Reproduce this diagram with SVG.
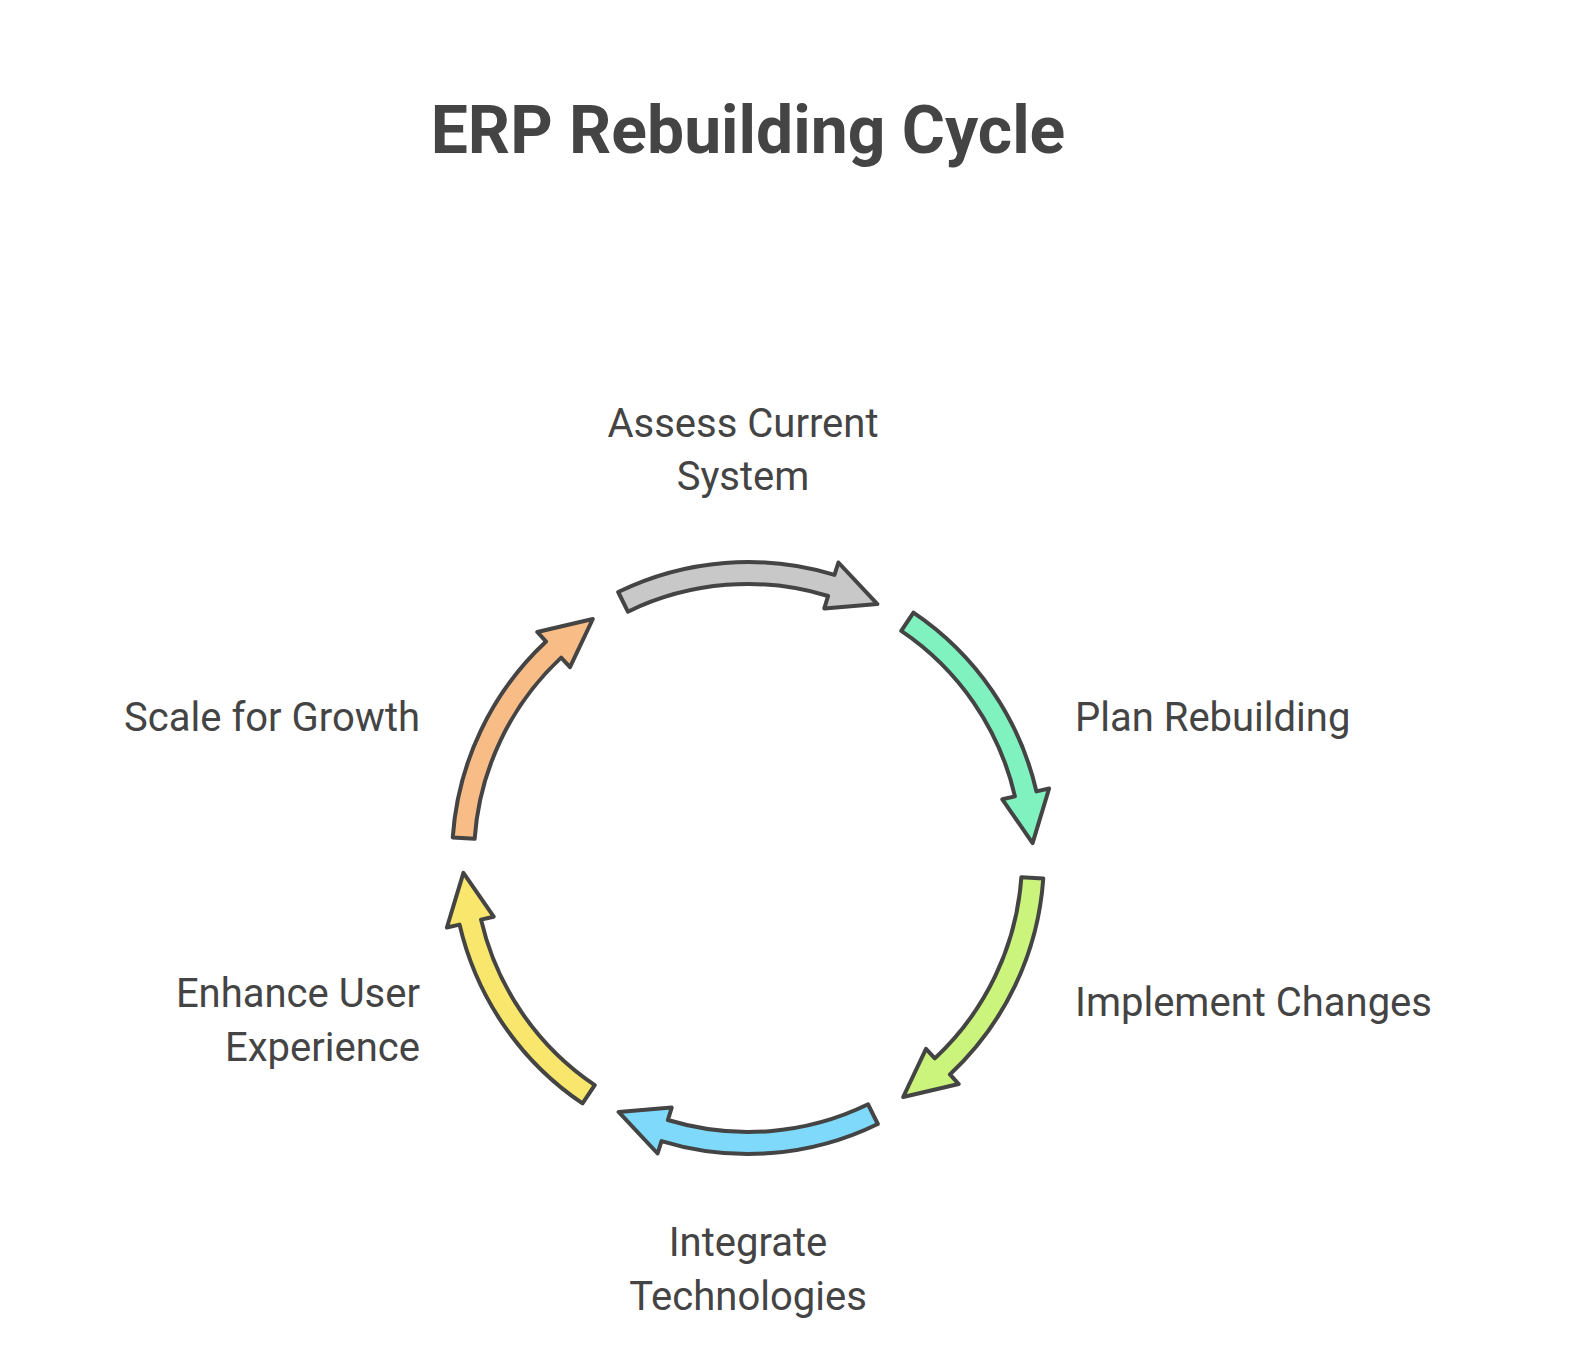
<svg xmlns="http://www.w3.org/2000/svg" width="1584" height="1361" viewBox="0 0 1584 1361">
<style>
.t{font-family:Roboto,"Liberation Sans",sans-serif;fill:#444;font-size:40px}
.a{stroke:#444;stroke-width:4;stroke-linejoin:round}
</style>
<defs>
<path id="arr" d="M 618.2 592 A 296 296 0 0 1 834.5 574.9 L 838.4 562.5 L 877.4 604.1 L 824.3 608.4 L 828.1 596 A 274 274 0 0 0 627.9 611.7 Z"/>
</defs>
<rect width="1584" height="1361" fill="#fff"/>
<text x="748" y="153" text-anchor="middle" class="t" style="font-size:66px;font-weight:bold">ERP Rebuilding Cycle</text>
<g id="connectors">
<use href="#arr" class="a" fill="#c8c8c8"/>
<use href="#arr" class="a" fill="#80f2c0" transform="rotate(60 748 858)"/>
<use href="#arr" class="a" fill="#cbf47c" transform="rotate(120 748 858)"/>
<use href="#arr" class="a" fill="#7fd9fb" transform="rotate(180 748 858)"/>
<use href="#arr" class="a" fill="#f9e66c" transform="rotate(240 748 858)"/>
<use href="#arr" class="a" fill="#f8bc87" transform="rotate(300 748 858)"/>
</g>
<g id="n1"><text class="t" text-anchor="middle" x="743" y="437">Assess Current</text><text class="t" text-anchor="middle" x="743" y="490">System</text></g>
<g id="n2"><text class="t" x="1075" y="731">Plan Rebuilding</text></g>
<g id="n3"><text class="t" x="1075" y="1016">Implement Changes</text></g>
<g id="n4"><text class="t" text-anchor="middle" x="748" y="1256">Integrate</text><text class="t" text-anchor="middle" x="748" y="1310">Technologies</text></g>
<g id="n5"><text class="t" text-anchor="end" x="420" y="1007">Enhance User</text><text class="t" text-anchor="end" x="420" y="1061">Experience</text></g>
<g id="n6"><text class="t" text-anchor="end" x="420" y="731">Scale for Growth</text></g>
</svg>
